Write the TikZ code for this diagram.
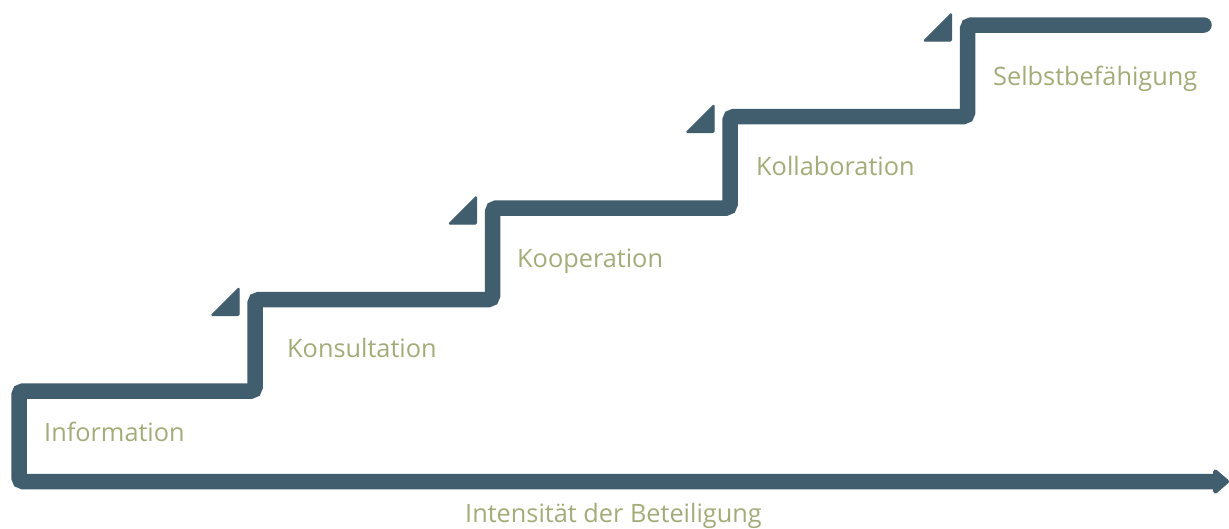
\documentclass[tikz,border=0pt]{standalone}
\usepackage{fontspec}
\setmainfont{Open Sans}
\usetikzlibrary{arrows.meta}
\definecolor{stair}{RGB}{64,94,110}
\definecolor{label}{RGB}{163,172,120}
\tikzset{
  stairline/.style={draw=stair, line width=15.5pt, rounded corners=4pt, line cap=round},
  flag/.style={fill=stair, draw=stair, line width=1pt, rounded corners=1.2pt},
  steplabel/.style={text=label, font=\fontsize{25.3}{28}\selectfont, anchor=base west, inner sep=0pt}
}
\begin{document}
\begin{tikzpicture}[x=1pt,y=-1pt]
  \useasboundingbox (0,0) rectangle (1229,528);

  % corners of the staircase
  \coordinate (top) at (1204,25);
  \coordinate (r5) at (967.5,25);
  \coordinate (r5b) at (967.5,116.5);
  \coordinate (r4) at (730,116.5);
  \coordinate (r4b) at (730,208);
  \coordinate (r3) at (492.5,208);
  \coordinate (r3b) at (492.5,299.5);
  \coordinate (r2) at (255,299.5);
  \coordinate (r2b) at (255,391);
  \coordinate (r1) at (19,391);
  \coordinate (r1b) at (19,481.5);
  \coordinate (tip) at (1229,481.5);

  \draw[stairline, -{Triangle[length=17pt,width=28pt,round]}]
    (top) -- (r5) -- (r5b) -- (r4) -- (r4b) -- (r3) -- (r3b)
    -- (r2) -- (r2b) -- (r1) -- (r1b) -- (tip);

  % small flags in front of each riser
  \foreach \x/\y in {255/299.5, 492.5/208, 730/116.5, 967.5/25}{
    \path[flag] (\x-44,\y+16) -- (\x-16,\y+16) -- (\x-16,\y-12) -- cycle;
  }

  \node[steplabel] (information) at (44,441) {Information};
  \node[steplabel] (konsultation) at (287,357) {Konsultation};
  \node[steplabel] (kooperation) at (517,267) {Kooperation};
  \node[steplabel] (kollaboration) at (756,175) {Kollaboration};
  \node[steplabel] (selbst) at (993,85) {Selbstbefähigung};
  \node[steplabel] (axis) at (465,522) {Intensität der Beteiligung};
\end{tikzpicture}
\end{document}
